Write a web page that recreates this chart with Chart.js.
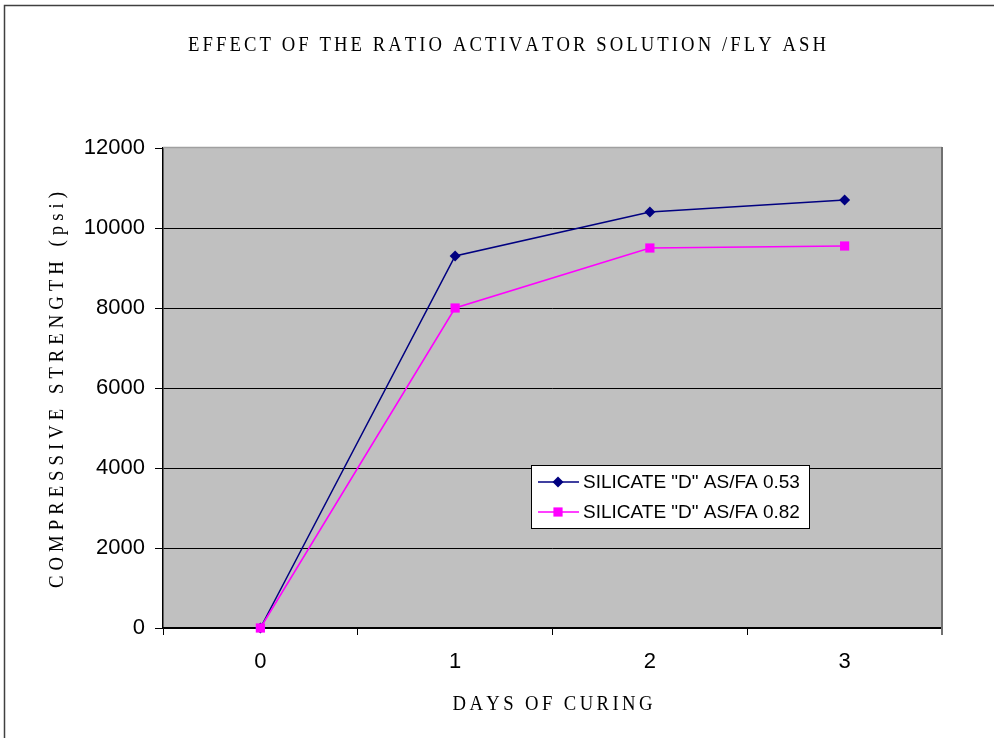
<!DOCTYPE html>
<html>
<head>
<meta charset="utf-8">
<script src="https://cdn.jsdelivr.net/npm/chart.js@4.4.0/dist/chart.umd.min.js"></script>
<style>
  html, body { margin: 0; padding: 0; background: #ffffff; }
  #wrap { width: 994px; height: 738px; }
</style>
</head>
<body>
<div id="wrap"><canvas id="chart" width="994" height="738"></canvas></div>
<script>
// Days of curing (x categories)
const categories = ['0', '1', '2', '3'];
// Series names
const seriesNames = ['SILICATE "D" AS/FA 0.53', 'SILICATE "D" AS/FA 0.82'];
// Compressive strength values, psi
const strengthAsFa053 = [0, 9300, 10400, 10700];
const strengthAsFa082 = [0, 8000, 9500, 9550];
// Value axis range
const yMin = 0;
const yMax = 12000;
const yStep = 2000;

const chartTitle = 'EFFECT OF THE RATIO ACTIVATOR SOLUTION /FLY ASH';
const yTitle = 'COMPRESSIVE STRENGTH (psi)';
const xTitle = 'DAYS OF CURING';

// Draws a string one glyph at a time with extra tracking so it fills a given width.
function drawTracked(ctx, text, cx, cy, font, width, angle, squeeze) {
  ctx.save();
  ctx.font = font;
  ctx.fillStyle = '#000';
  ctx.textBaseline = 'middle';
  ctx.textAlign = 'left';
  ctx.translate(cx, cy);
  ctx.rotate(angle || 0);
  const sx = squeeze || 1;
  const chars = Array.from(text);
  const widths = chars.map(c => ctx.measureText(c).width * sx);
  const natural = widths.reduce((a, b) => a + b, 0);
  const gap = chars.length > 1 ? (width - natural) / (chars.length - 1) : 0;
  let x = -width / 2;
  chars.forEach((c, i) => {
    ctx.save();
    ctx.translate(x, 0);
    ctx.scale(sx, 1);
    ctx.fillText(c, 0, 0);
    ctx.restore();
    x += widths[i] + gap;
  });
  ctx.restore();
}

function drawMarker(ctx, style, x, y, r, color) {
  ctx.save();
  ctx.fillStyle = color;
  ctx.beginPath();
  if (style === 'rectRot') {
    ctx.moveTo(x, y - r);
    ctx.lineTo(x + r, y);
    ctx.lineTo(x, y + r);
    ctx.lineTo(x - r, y);
    ctx.closePath();
  } else {
    const s = Math.SQRT1_2 * r;
    ctx.rect(x - s, y - s, 2 * s, 2 * s);
  }
  ctx.fill();
  ctx.restore();
}

const decorPlugin = {
  id: 'decor',
  beforeDraw(chart) {
    const { ctx, chartArea: a } = chart;
    ctx.save();
    // page frame (top and left)
    ctx.strokeStyle = '#404040';
    ctx.lineWidth = 1.5;
    ctx.beginPath();
    ctx.moveTo(4.5, 738);
    ctx.lineTo(4.5, 5.5);
    ctx.lineTo(994, 5.5);
    ctx.stroke();
    // plot area fill
    ctx.fillStyle = '#c0c0c0';
    ctx.fillRect(a.left, a.top, a.right - a.left, a.bottom - a.top);
    ctx.restore();
  },
  beforeDatasetsDraw(chart) {
    const { ctx, chartArea: a } = chart;
    ctx.save();
    ctx.strokeStyle = '#a0a0a0';
    ctx.lineWidth = 1.5;
    ctx.beginPath();
    ctx.moveTo(a.left, a.top - 0.5);
    ctx.lineTo(a.right, a.top - 0.5);
    ctx.stroke();
    ctx.strokeStyle = '#707070';
    ctx.lineWidth = 2;
    ctx.beginPath();
    ctx.moveTo(a.right, a.top - 1);
    ctx.lineTo(a.right, a.bottom + 7);
    ctx.stroke();
    ctx.restore();
  },
  afterDraw(chart) {
    const { ctx, chartArea: a } = chart;
    // titles
    drawTracked(ctx, chartTitle, 507, 45, '22px "Liberation Serif"', 638, 0, 0.85);
    drawTracked(ctx, yTitle, 57, (a.top + a.bottom) / 2 + 2, '22px "Liberation Serif"', 396, -Math.PI / 2, 0.85);
    drawTracked(ctx, xTitle, (a.left + a.right) / 2, 704, '22px "Liberation Serif"', 200, 0, 0.85);

    // legend box
    const lx = 531, ly = 465, lw = 278, lh = 63;
    ctx.save();
    ctx.fillStyle = '#ffffff';
    ctx.fillRect(lx, ly, lw, lh);
    ctx.strokeStyle = '#000';
    ctx.lineWidth = 1;
    ctx.strokeRect(lx + 0.5, ly + 0.5, lw, lh);
    ctx.font = '19px "Liberation Sans"';
    ctx.textBaseline = 'middle';
    ctx.textAlign = 'left';
    chart.data.datasets.forEach((ds, i) => {
      const y = ly + 17 + i * 30;
      ctx.strokeStyle = ds.borderColor;
      ctx.lineWidth = 1.5;
      ctx.beginPath();
      ctx.moveTo(lx + 7, y);
      ctx.lineTo(lx + 48, y);
      ctx.stroke();
      drawMarker(ctx, ds.pointStyle, lx + 27, y, ds.pointRadius, ds.backgroundColor);
      ctx.fillStyle = '#000';
      ctx.fillText(ds.label, lx + 52, y + 1);
    });
    ctx.restore();
  }
};

new Chart(document.getElementById('chart'), {
  type: 'line',
  data: {
    labels: categories,
    datasets: [
      {
        label: seriesNames[0],
        data: strengthAsFa053,
        borderColor: '#000080',
        backgroundColor: '#000080',
        borderWidth: 1.5,
        pointStyle: 'rectRot',
        pointRadius: 5.5,
        pointBorderWidth: 0,
        tension: 0,
        clip: false,
        order: 1
      },
      {
        label: seriesNames[1],
        data: strengthAsFa082,
        borderColor: '#ff00ff',
        backgroundColor: '#ff00ff',
        borderWidth: 1.5,
        pointStyle: 'rect',
        pointRadius: 6.5,
        pointBorderWidth: 0,
        tension: 0,
        clip: false,
        order: 0
      }
    ]
  },
  options: {
    responsive: false,
    devicePixelRatio: 1,
    animation: false,
    layout: { padding: { top: 148, right: 52, bottom: 0, left: 0 } },
    plugins: {
      legend: { display: false },
      title: { display: false },
      tooltip: { enabled: false }
    },
    scales: {
      x: {
        type: 'category',
        offset: true,
        grid: {
          offset: true,
          drawOnChartArea: false,
          drawTicks: true,
          tickLength: 7,
          color: '#000',
          lineWidth: 1
        },
        border: { color: '#000', width: 1.5 },
        ticks: {
          color: '#000',
          font: { family: '"Liberation Sans"', size: 22 },
          padding: 14,
          maxRotation: 0
        },
        afterFit(scale) { scale.height = 110; }
      },
      y: {
        min: yMin,
        max: yMax,
        grid: {
          color: (c) => (c.tick && c.tick.value === yMax ? 'rgba(0,0,0,0)' : '#000'),
          tickColor: '#000',
          lineWidth: 1,
          drawTicks: true,
          tickLength: 8
        },
        border: { color: '#000', width: 1.5 },
        ticks: {
          stepSize: yStep,
          color: '#000',
          font: { family: '"Liberation Sans"', size: 22 },
          padding: 10,
          callback: (v) => String(v)
        },
        afterFit(scale) { scale.width = 163; }
      }
    }
  },
  plugins: [decorPlugin]
});
</script>
</body>
</html>
